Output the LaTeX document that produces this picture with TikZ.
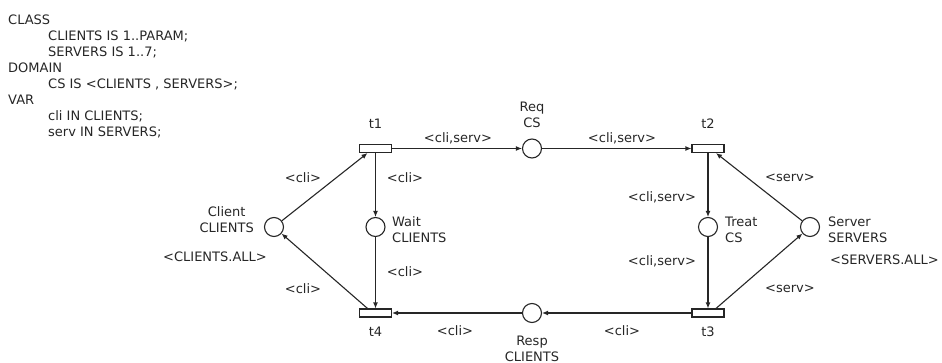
\documentclass[tikz,border=0pt]{standalone}
\usepackage{fontspec}
\setmainfont{DejaVu Sans}
\usetikzlibrary{arrows.meta}
\begin{document}
\begin{tikzpicture}[x=1pt,y=-1pt,
  font=\fontsize{13}{16}\selectfont,
  place/.style={circle,draw=black!85,line width=1.1pt,minimum size=19pt,inner sep=0pt,fill=white},
  trans/.style={rectangle,draw=black!85,line width=1.1pt,minimum width=32pt,minimum height=8pt,inner sep=0pt,fill=white},
  arc/.style={draw=black!85,line width=1.1pt,-{Latex[length=6pt,width=5pt]}},
  lbl/.style={inner sep=0pt,text=black!85},
  code/.style={inner sep=0pt,anchor=base west,text=black!85}]
\useasboundingbox (0,0) rectangle (942,363);

% declarations
\node[code] (c1) at (8,25)    {CLASS};
\node[code] (c2) at (48,41)   {CLIENTS IS 1..PARAM;};
\node[code] (c3) at (48,57)   {SERVERS IS 1..7;};
\node[code] (c4) at (8,73)    {DOMAIN};
\node[code] (c5) at (48,89)   {CS IS <CLIENTS , SERVERS>;};
\node[code] (c6) at (8,105)   {VAR};
\node[code] (c7) at (48,121)  {cli IN CLIENTS;};
\node[code] (c8) at (48,137)  {serv IN SERVERS;};

% transitions
\node[trans] (t1) at (375.5,148.5) {};
\node[trans] (t2) at (708,148.5) {};
\node[trans] (t3) at (708,313) {};
\node[trans] (t4) at (375.5,313) {};

% places
\node[place] (cl)    at (274,227) {};
\node[place] (wait)  at (375.5,227) {};
\node[place] (req)   at (532,148.5) {};
\node[place] (treat) at (708,227) {};
\node[place] (srv)   at (810,227) {};
\node[place] (resp)  at (532,313) {};

% arcs
\draw[arc] (t1) -- (req);
\draw[arc] (req) -- (t2);
\draw[arc] (t1) -- (wait);
\draw[arc] (wait) -- (t4);
\draw[arc] (cl) -- ([xshift=-8]t1.south);
\draw[arc] ([xshift=-8]t4.north) -- (cl);
\draw[arc] (t2) -- (treat);
\draw[arc] (treat) -- (t3);
\draw[arc] (srv) -- ([xshift=8]t2.south);
\draw[arc] ([xshift=8]t3.north) -- (srv);
\draw[arc] (t3) -- (resp);
\draw[arc] (resp) -- (t4);

% node names
\node[lbl] (t1l) at (375.5,124) {t1};
\node[lbl] (t2l) at (708,124) {t2};
\node[lbl] (t3l) at (708,332) {t3};
\node[lbl] (t4l) at (375.5,332) {t4};
\node[lbl,align=center] (reql) at (532,115) {Req\\CS};
\node[lbl,align=center] (respl) at (532,349) {Resp\\CLIENTS};
\node[lbl,align=center,anchor=east] (cll) at (254,220) {Client\\CLIENTS};
\node[lbl] (clm) at (215,257) {<CLIENTS.ALL>};
\node[lbl,align=left,anchor=west] (waitl) at (392,230) {Wait\\CLIENTS};
\node[lbl,align=left,anchor=west] (treatl) at (725,230) {Treat\\CS};
\node[lbl,align=left,anchor=west] (srvl) at (828,230) {Server\\SERVERS};
\node[lbl,anchor=west] (srvm) at (830,260) {<SERVERS.ALL>};

% arc inscriptions
\node[lbl] (a1) at (458,138) {<cli,serv>};
\node[lbl] (a2) at (622,138) {<cli,serv>};
\node[lbl] (a3) at (405,178) {<cli>};
\node[lbl] (a4) at (405,272) {<cli>};
\node[lbl] (a5) at (303,178) {<cli>};
\node[lbl] (a6) at (303,289) {<cli>};
\node[lbl] (a7) at (662,197) {<cli,serv>};
\node[lbl] (a8) at (662,261) {<cli,serv>};
\node[lbl] (a9) at (790,178) {<serv>};
\node[lbl] (a10) at (790,289) {<serv>};
\node[lbl] (a11) at (622,331) {<cli>};
\node[lbl] (a12) at (455,331) {<cli>};
\end{tikzpicture}
\end{document}
